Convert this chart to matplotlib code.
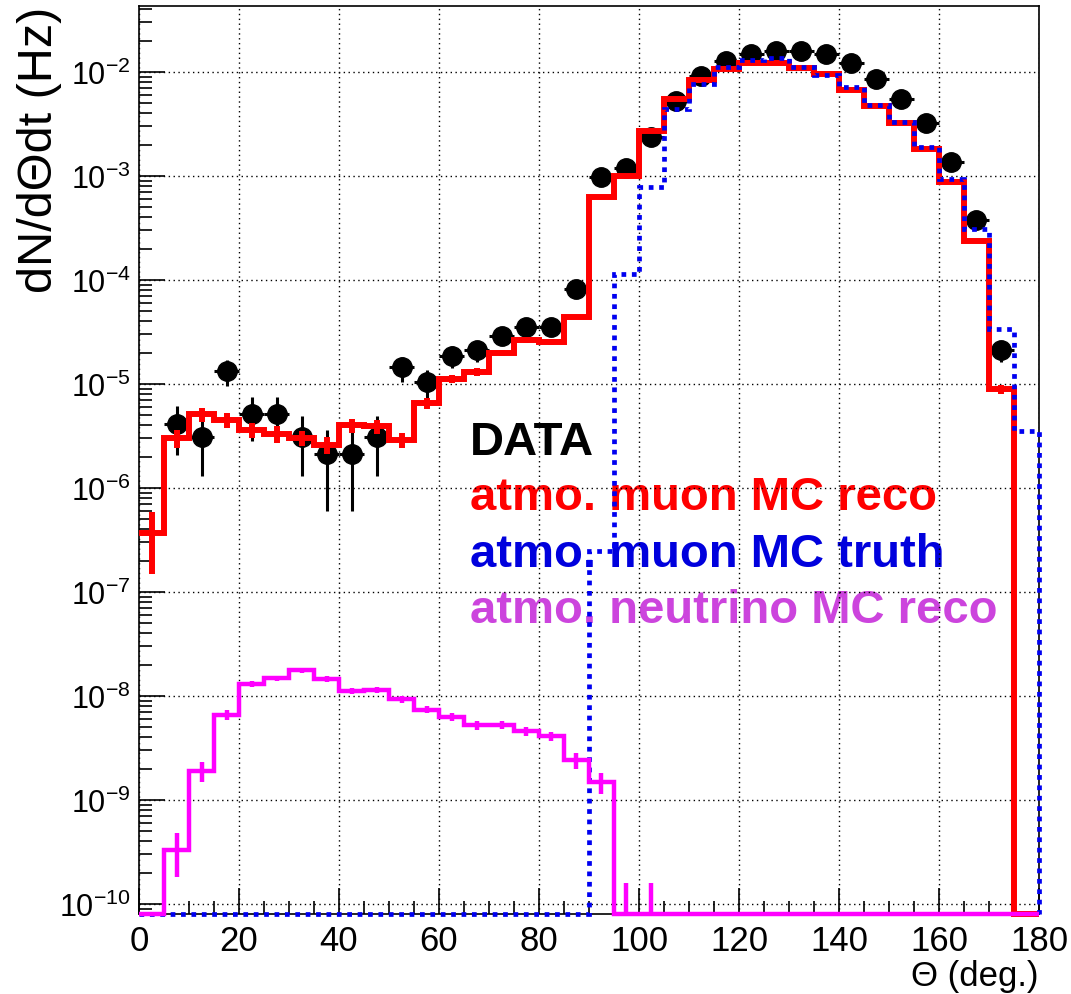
import numpy as np
import matplotlib
matplotlib.use("Agg")
import matplotlib.pyplot as plt
from matplotlib.ticker import FixedLocator, MultipleLocator, LogLocator, NullFormatter

plt.rcParams['font.family'] = ['Liberation Sans', 'DejaVu Sans']
plt.rcParams['mathtext.default'] = 'regular'

# --- histogram binning: 36 bins of 5 deg ---
edges = np.arange(0, 185, 5)
centers = edges[:-1] + 2.5

# DATA (black points), Hz
data_val = [0, 4.1e-6, 3.1e-6, 1.33e-5, 5.1e-6, 5.1e-6, 3.1e-6, 2.1e-6, 2.1e-6, 3.1e-6,
            1.44e-5, 1.04e-5, 1.86e-5, 2.1e-5, 2.9e-5, 3.5e-5, 3.5e-5, 8.1e-5,
            9.8e-4, 1.2e-3, 2.35e-3, 5.3e-3, 9.1e-3, 1.27e-2, 1.5e-2, 1.6e-2,
            1.58e-2, 1.5e-2, 1.22e-2, 8.6e-3, 5.5e-3, 3.2e-3, 1.35e-3, 3.8e-4, 2.1e-5, 0]
data_err = [0, 2.05e-6, 1.8e-6, 3.7e-6, 2.3e-6, 2.3e-6, 1.8e-6, 1.5e-6, 1.5e-6, 1.8e-6,
            3.9e-6, 3.3e-6, 4.4e-6, 4.6e-6, 5.4e-6, 6e-6, 6e-6, 9e-6,
            3.2e-5, 3.5e-5, 4.9e-5, 7.4e-5, 9.7e-5, 1.1e-4, 1.2e-4, 1.3e-4,
            1.3e-4, 1.2e-4, 1.1e-4, 9.4e-5, 7.5e-5, 5.7e-5, 3.7e-5, 2e-5, 4.6e-6, 0]

# atmo. muon MC reco (red)
reco_val = [3.7e-7, 3.0e-6, 5.1e-6, 4.5e-6, 3.6e-6, 3.3e-6, 3.0e-6, 2.6e-6, 4.0e-6, 3.9e-6,
            2.9e-6, 6.5e-6, 1.12e-5, 1.3e-5, 2.0e-5, 2.65e-5, 2.5e-5, 4.4e-5,
            6.2e-4, 1.0e-3, 2.7e-3, 5.5e-3, 8.4e-3, 1.07e-2, 1.22e-2, 1.22e-2,
            1.09e-2, 9.6e-3, 6.7e-3, 4.7e-3, 3.2e-3, 1.82e-3, 8.8e-4, 2.35e-4, 8.9e-6, 0]
reco_err = [2.2e-7, 0.6e-6, 0.8e-6, 0.7e-6, 0.6e-6, 0.6e-6, 0.5e-6, 0.5e-6, 0.6e-6, 0.6e-6,
            0.5e-6, 0.8e-6, 1.0e-6, 1.1e-6, 1.4e-6, 1.6e-6, 1.6e-6, 2.2e-6,
            8e-6, 1.2e-5, 2.5e-5, 4e-5, 5e-5, 6e-5, 6.5e-5, 6.5e-5,
            6e-5, 5.5e-5, 4.5e-5, 4e-5, 3.2e-5, 2.4e-5, 1.7e-5, 8e-6, 0.9e-6, 0]

# atmo. muon MC truth (blue dotted)
truth_val = [0, 0, 0, 0, 0, 0, 0, 0, 0, 0, 0, 0, 0, 0, 0, 0, 0, 0,
             2.5e-7, 1.15e-4, 7.9e-4, 4.4e-3, 7.7e-3, 1.12e-2, 1.3e-2, 1.36e-2,
             1.12e-2, 9.4e-3, 7.1e-3, 4.8e-3, 3.3e-3, 1.9e-3, 9.4e-4, 3.1e-4, 3.4e-5, 3.5e-6]

# atmo. neutrino MC reco (magenta)
nu_val = [0, 3.3e-10, 1.9e-9, 6.6e-9, 1.3e-8, 1.48e-8, 1.77e-8, 1.45e-8, 1.12e-8, 1.15e-8,
          9.3e-9, 7.4e-9, 6.3e-9, 5.2e-9, 5.3e-9, 4.6e-9, 4.1e-9, 2.4e-9,
          1.48e-9, 0, 0, 0, 0, 0, 0, 0, 0, 0, 0, 0, 0, 0, 0, 0, 0, 0]
nu_err = [0, 1.5e-10, 4e-10, 7e-10, 8e-10, 9e-10, 1e-9, 9e-10, 8e-10, 8e-10,
          7e-10, 6e-10, 5e-10, 5e-10, 5e-10, 4.5e-10, 4.2e-10, 4e-10,
          3.5e-10, 1.6e-10, 1.6e-10, 0, 0, 0, 0, 0, 0, 0, 0, 0, 0, 0, 0, 0, 0, 0]

Y_MIN, Y_MAX = 8.0e-11, 4.3e-2
decades = [1e-10, 1e-9, 1e-8, 1e-7, 1e-6, 1e-5, 1e-4, 1e-3, 1e-2]
decade_labels = ['$10^{-10}$', '$10^{-9}$', '$10^{-8}$', '$10^{-7}$', '$10^{-6}$',
                 '$10^{-5}$', '$10^{-4}$', '$10^{-3}$', '$10^{-2}$']

RED = '#ff0000'
BLUE = '#0000f0'
MAGENTA = '#ff00ff'


def floored(v):
    v = np.asarray(v, dtype=float)
    return np.where(v > 0, v, Y_MIN)


def mc_errbars(ax, vals, errs, color, lw, z):
    vals = np.asarray(vals, dtype=float)
    errs = np.asarray(errs, dtype=float)
    keep = errs > 0
    lo = np.maximum(vals - errs, Y_MIN)
    hi = vals + errs
    ax.vlines(centers[keep], lo[keep], hi[keep], colors=color, linewidth=lw, zorder=z)


fig = plt.figure(figsize=(10.71, 9.95), dpi=100)
ax = fig.add_axes([0.1298, 0.0804, 0.8403, 0.9126])
ax.set_yscale('log')
ax.set_xlim(0, 180)
ax.set_ylim(Y_MIN, Y_MAX)

# data points
dv = np.asarray(data_val)
de = np.asarray(data_err)
m = dv > 0
ax.errorbar(centers[m], dv[m], yerr=de[m], xerr=2.5, fmt='o', color='black',
            markersize=14, elinewidth=2.2, capsize=0, zorder=2)

# MC histograms
ax.stairs(floored(reco_val), edges, baseline=None, color=RED, linewidth=4.3,
          zorder=3, clip_on=False)
mc_errbars(ax, reco_val, reco_err, RED, 4.3, 3)

ax.stairs(floored(truth_val), edges, baseline=Y_MIN, fill=False, color=BLUE,
          linewidth=3.4, linestyle=(0, (1, 1.2)), zorder=4, clip_on=False)

ax.stairs(floored(nu_val), edges, baseline=Y_MIN, fill=False, color=MAGENTA,
          linewidth=3.2, zorder=5, clip_on=False)
mc_errbars(ax, nu_val, nu_err, MAGENTA, 3.2, 5)

# axes styling (ROOT look)
ax.xaxis.set_major_locator(MultipleLocator(20))
ax.xaxis.set_minor_locator(MultipleLocator(5))
ax.yaxis.set_major_locator(FixedLocator(decades))
ax.set_yticklabels(decade_labels)
ax.yaxis.set_minor_locator(LogLocator(base=10, subs=np.arange(2, 10)))
ax.yaxis.set_minor_formatter(NullFormatter())

ax.set_axisbelow(True)
ax.grid(True, which='major', color='black', linestyle=(0, (1, 2.5)), linewidth=1.0)
ax.tick_params(which='both', direction='in', top=False, right=False, width=1.2)
ax.tick_params(which='major', length=19)
ax.tick_params(which='minor', length=9.5)
ax.tick_params(axis='x', labelsize=25, pad=7)
ax.tick_params(axis='y', labelsize=22, pad=6)
for s in ax.spines.values():
    s.set_linewidth(1.2)

ax.set_ylabel('dN/dΘdt (Hz)', fontsize=35, loc='top')
ax.yaxis.set_label_coords(-0.086, 1.0)
ax.set_xlabel('Θ (deg.)', fontsize=25, loc='right')
ax.xaxis.set_label_coords(1.0, -0.05)

# legend-like labels
legend_items = [('DATA', 'black', 0.5066),
                ('atmo. muon MC reco', RED, 0.446),
                ('atmo. muon MC truth', '#0000dd', 0.383),
                ('atmo. neutrino MC reco', '#cc44dd', 0.3216)]
for txt, col, yy in legend_items:
    ax.text(0.3678, yy, txt, color=col, fontsize=34, fontweight='bold',
            transform=ax.transAxes, va='baseline', ha='left', zorder=0.4)

fig.savefig('out.png', dpi=100)
